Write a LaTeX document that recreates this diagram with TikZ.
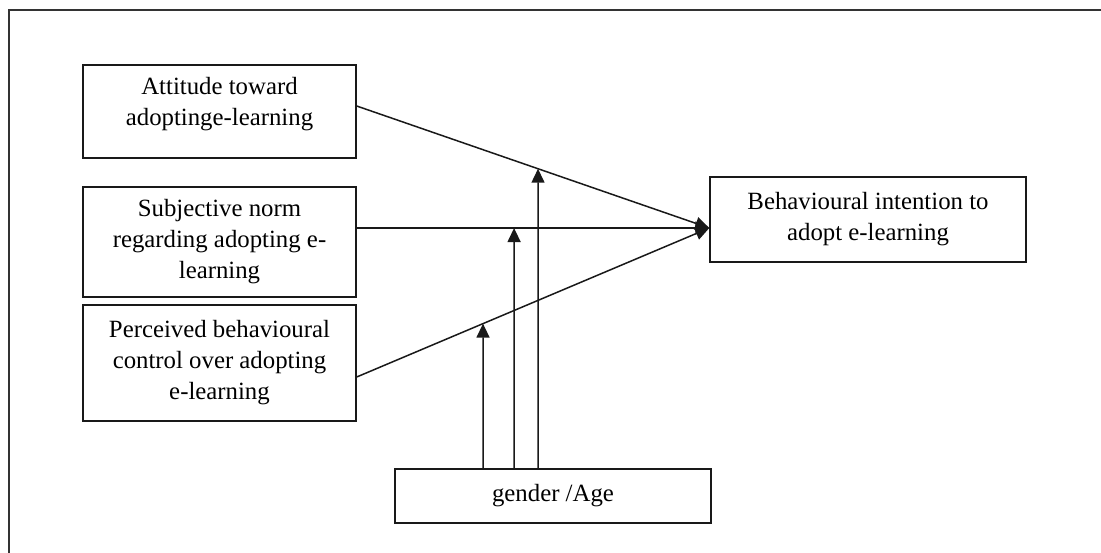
\documentclass[tikz,border=0pt]{standalone}
\usepackage{fontspec}
\setmainfont{Liberation Serif}
\usetikzlibrary{arrows.meta}

\begin{document}
\begin{tikzpicture}[x=1pt,y=-1pt,
  box/.style={draw=black!90, line width=1.4pt, align=center, inner sep=0pt,
              text=black, font=\fontsize{24.8}{31}\selectfont},
  link/.style={draw=black!90, line width=1.5pt},
  tip/.style={link, -{Triangle[length=14pt,width=13pt]}}]

\clip (0,0) rectangle (1101,552);

% outer frame (cut off on the right and at the bottom)
\draw[line width=1.6pt, draw=black!80] (9,10) rectangle (1130,580);

\node (att)  [box, minimum width=273pt, minimum height=93pt, text depth=21pt] at (219.5,111.5)
  {Attitude toward\\adoptinge-learning};
\node (subj) [box, minimum width=273pt, minimum height=110pt] at (219.5,242)
  {Subjective norm\\regarding adopting e-\\learning};
\node (perc) [box, minimum width=273pt, minimum height=116pt] at (219.5,363)
  {Perceived behavioural\\control over adopting\\e-learning};
\node (bi)   [box, minimum width=316pt, minimum height=85pt]  at (868,219.5)
  {Behavioural intention to\\adopt e-learning};
\node (gen)  [box, minimum width=316pt, minimum height=54pt]  at (553,496)
  {gender /Age};

\coordinate (a1) at ([yshift=5.5pt]att.east);
\coordinate (s1) at ([yshift=14pt]subj.east);
\coordinate (p1) at ([yshift=-14pt]perc.east);
\coordinate (t)  at ([yshift=-8.5pt]bi.west);

\coordinate (m1) at ([xshift=-70pt]gen.north);
\coordinate (m2) at ([xshift=-39pt]gen.north);
\coordinate (m3) at ([xshift=-15pt]gen.north);
\coordinate (m1top) at (m1 |- t);
\coordinate (m2top) at (m2 |- t);
\coordinate (m3top) at (m3 |- t);

\draw[tip] (a1)--(t);
\draw[tip] (s1)--(t);
\draw[tip] (p1)--(t);

\draw[tip] (m1)--(intersection of m1--m1top and p1--t);
\draw[tip] (m2)--(intersection of m2--m2top and s1--t);
\draw[tip] (m3)--(intersection of m3--m3top and a1--t);
\end{tikzpicture}
\end{document}
